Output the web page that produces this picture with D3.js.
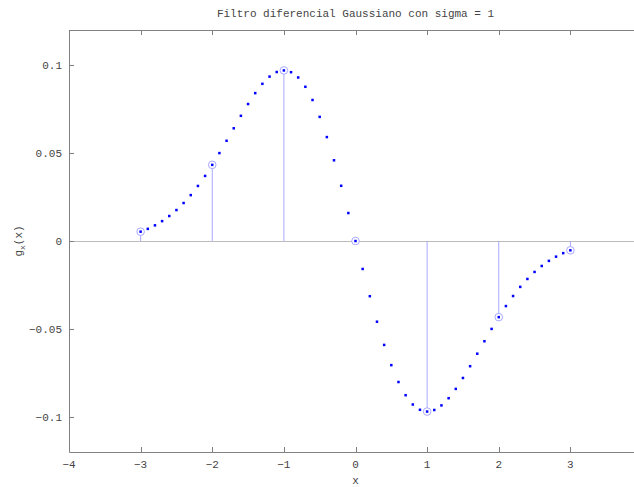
<!DOCTYPE html>
<html>
<head>
<meta charset="utf-8">
<script src="https://cdn.jsdelivr.net/npm/d3@7"></script>
<style>
  body { margin: 0; background: #fff; overflow: hidden; }
  text { font-family: "Liberation Mono", "DejaVu Sans Mono", monospace; fill: #444; }
</style>
</head>
<body>
<svg id="chart" width="634" height="487"></svg>
<script>
// sample positions and filter values
var xs = [-3.0, -2.9, -2.8, -2.7, -2.6, -2.5, -2.4, -2.3, -2.2, -2.1,
          -2.0, -1.9, -1.8, -1.7, -1.6, -1.5, -1.4, -1.3, -1.2, -1.1,
          -1.0, -0.9, -0.8, -0.7, -0.6, -0.5, -0.4, -0.3, -0.2, -0.1,
           0.0,  0.1,  0.2,  0.3,  0.4,  0.5,  0.6,  0.7,  0.8,  0.9,
           1.0,  1.1,  1.2,  1.3,  1.4,  1.5,  1.6,  1.7,  1.8,  1.9,
           2.0,  2.1,  2.2,  2.3,  2.4,  2.5,  2.6,  2.7,  2.8,  2.9, 3.0];
var gx = [0.0053, 0.0069, 0.0089, 0.0113, 0.0142, 0.0176, 0.0216, 0.0261, 0.0313, 0.0370,
          0.0433, 0.0500, 0.0570, 0.0641, 0.0712, 0.0779, 0.0841, 0.0894, 0.0935, 0.0961,
          0.0970, 0.0960, 0.0930, 0.0877, 0.0802, 0.0706, 0.0591, 0.0459, 0.0314, 0.0159,
          0.0,
         -0.0159, -0.0314, -0.0459, -0.0591, -0.0706, -0.0802, -0.0877, -0.0930, -0.0960,
         -0.0970, -0.0961, -0.0935, -0.0894, -0.0841, -0.0779, -0.0712, -0.0641, -0.0570, -0.0500,
         -0.0433, -0.0370, -0.0313, -0.0261, -0.0216, -0.0176, -0.0142, -0.0113, -0.0089, -0.0069, -0.0053];

// integer samples drawn as stems
var stemX = [-3, -2, -1, 0, 1, 2, 3];
var stemY = [0.0053, 0.0433, 0.0970, 0.0, -0.0970, -0.0433, -0.0053];

var xTicks = [-4, -3, -2, -1, 0, 1, 2, 3];
var yTicks = [-0.1, -0.05, 0, 0.05, 0.1];

var margin = { left: 69, top: 30, bottom: 452, right: 642 };

var svg = d3.select("#chart");

var x = d3.scaleLinear().domain([-4, 4]).range([margin.left, margin.right]);
var y = d3.scaleLinear().domain([-0.12, 0.12]).range([margin.bottom, margin.top]);

// zero line
svg.append("line")
  .attr("x1", margin.left).attr("x2", margin.right)
  .attr("y1", y(0) + 0.5).attr("y2", y(0) + 0.5)
  .attr("stroke", "#bbbbbb").attr("stroke-width", 1);

// axes box (left, top, bottom)
var axisColor = "#808080";
svg.append("path")
  .attr("d", "M" + margin.right + "," + (margin.top + 0.5) +
             "H" + (margin.left + 0.5) +
             "V" + (margin.bottom + 0.5) +
             "H" + margin.right)
  .attr("fill", "none").attr("stroke", axisColor).attr("stroke-width", 1);

// x ticks, bottom and top, pointing inward
xTicks.forEach(function (d) {
  var px = Math.round(x(d)) + 0.5;
  svg.append("line").attr("x1", px).attr("x2", px)
    .attr("y1", margin.bottom).attr("y2", margin.bottom - 5)
    .attr("stroke", axisColor);
  svg.append("line").attr("x1", px).attr("x2", px)
    .attr("y1", margin.top).attr("y2", margin.top + 5)
    .attr("stroke", axisColor);
  svg.append("text")
    .attr("x", x(d)).attr("y", margin.bottom + 16)
    .attr("text-anchor", "middle")
    .style("font-size", "11px")
    .text(d < 0 ? "\u2212" + Math.abs(d) : d);
});

// y ticks
yTicks.forEach(function (d) {
  var py = Math.round(y(d)) + 0.5;
  svg.append("line").attr("x1", margin.left).attr("x2", margin.left + 5)
    .attr("y1", py).attr("y2", py)
    .attr("stroke", axisColor);
  svg.append("text")
    .attr("x", margin.left - 7).attr("y", y(d) + 4)
    .attr("text-anchor", "end")
    .style("font-size", "11px")
    .text(d < 0 ? "\u2212" + Math.abs(d) : d);
});

// stems
var stemColor = "#a8a8ff";
stemX.forEach(function (d, i) {
  svg.append("line")
    .attr("x1", x(d)).attr("x2", x(d))
    .attr("y1", y(0)).attr("y2", y(stemY[i]))
    .attr("stroke", stemColor).attr("stroke-width", 1);
  svg.append("circle")
    .attr("cx", x(d)).attr("cy", y(stemY[i]))
    .attr("r", 3.8)
    .attr("fill", "#fff")
    .attr("stroke", stemColor).attr("stroke-width", 1);
});

// sample dots
svg.selectAll(".dot")
  .data(xs)
  .enter()
  .append("rect")
  .attr("class", "dot")
  .attr("x", function (d) { return x(d) - 1.25; })
  .attr("y", function (d, i) { return y(gx[i]) - 1.25; })
  .attr("width", 2.5).attr("height", 2.5)
  .attr("fill", "#0000ff");

// title
svg.append("text")
  .attr("x", (margin.left + margin.right) / 2).attr("y", 17)
  .attr("text-anchor", "middle")
  .style("font-size", "11px")
  .text("Filtro diferencial Gaussiano con sigma = 1");

// x label
svg.append("text")
  .attr("x", (margin.left + margin.right) / 2).attr("y", 484)
  .attr("text-anchor", "middle")
  .style("font-size", "11px")
  .text("x");

// y label
var yl = svg.append("text")
  .attr("transform", "translate(22," + y(0) + ") rotate(-90)")
  .attr("text-anchor", "middle")
  .style("font-size", "11px");
yl.append("tspan").text("g");
yl.append("tspan").attr("dy", 3).style("font-size", "8px").text("x");
yl.append("tspan").attr("dy", -3).text("(x)");
</script>
</body>
</html>
